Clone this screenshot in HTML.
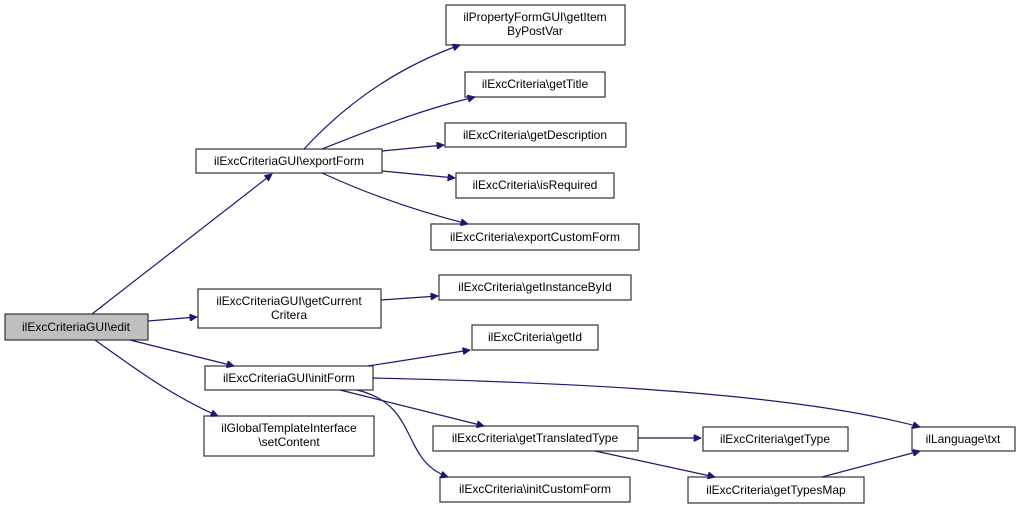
<!DOCTYPE html>
<html><head><meta charset="utf-8"><style>
body{margin:0;background:#fff}
svg text{font-family:"Liberation Sans",Helvetica,sans-serif;font-size:12px;fill:#000;text-anchor:middle}
rect{fill:#fff;stroke:#333;stroke-width:1.2}
path{fill:none;stroke:#191970;stroke-width:1.2}
</style></head><body>
<svg width="1020" height="509" viewBox="0 0 1020 509" xmlns="http://www.w3.org/2000/svg">
<defs><marker id="a" viewBox="0 0 10 10" refX="10" refY="5" markerWidth="10" markerHeight="7" markerUnits="userSpaceOnUse" orient="auto"><path d="M0,0L10,5L0,10z" style="fill:#191970;stroke:#191970"/></marker></defs>
<rect x="5" y="314" width="143" height="26" style="fill:#bfbfbf"/><text x="76" y="331">ilExcCriteriaGUI\edit</text>
<rect x="196" y="149" width="186" height="24"/><text x="289" y="165">ilExcCriteriaGUI\exportForm</text>
<rect x="198" y="289" width="183" height="39"/><text x="289" y="305">ilExcCriteriaGUI\getCurrent</text><text x="289" y="319">Critera</text>
<rect x="205" y="366" width="168" height="24"/><text x="289" y="382">ilExcCriteriaGUI\initForm</text>
<rect x="204" y="416" width="170" height="40"/><text x="289" y="432">ilGlobalTemplateInterface</text><text x="289" y="446">\setContent</text>
<rect x="446" y="5" width="179" height="40"/><text x="535" y="21">ilPropertyFormGUI\getItem</text><text x="535" y="35">ByPostVar</text>
<rect x="465" y="72" width="140" height="25"/><text x="535" y="88">ilExcCriteria\getTitle</text>
<rect x="445" y="123" width="181" height="24"/><text x="535" y="139">ilExcCriteria\getDescription</text>
<rect x="456" y="173" width="158" height="25"/><text x="535" y="189">ilExcCriteria\isRequired</text>
<rect x="431" y="224" width="208" height="26"/><text x="535" y="241">ilExcCriteria\exportCustomForm</text>
<rect x="439" y="275" width="192" height="25"/><text x="535" y="291">ilExcCriteria\getInstanceById</text>
<rect x="472" y="325" width="126" height="25"/><text x="535" y="341">ilExcCriteria\getId</text>
<rect x="433" y="426" width="205" height="25"/><text x="535" y="442">ilExcCriteria\getTranslatedType</text>
<rect x="440" y="477" width="190" height="25"/><text x="535" y="493">ilExcCriteria\initCustomForm</text>
<rect x="703" y="427" width="145" height="24"/><text x="775" y="443">ilExcCriteria\getType</text>
<rect x="688" y="477" width="176" height="26"/><text x="776" y="494">ilExcCriteria\getTypesMap</text>
<rect x="912" y="427" width="103" height="24"/><text x="963" y="443">ilLanguage\txt</text>
<path marker-end="url(#a)" d="M92,314 L272,174"/>
<path marker-end="url(#a)" d="M148,321 L197,317"/>
<path marker-end="url(#a)" d="M130,340 L234,366"/>
<path marker-end="url(#a)" d="M95,340 C130,365 170,395 218,416"/>
<path marker-end="url(#a)" d="M304,149 C340,110 390,70 460,45"/>
<path marker-end="url(#a)" d="M322,149 C370,130 420,110 475,97"/>
<path marker-end="url(#a)" d="M382,151 L444,145"/>
<path marker-end="url(#a)" d="M382,171 L455,178"/>
<path marker-end="url(#a)" d="M322,173 C370,195 420,212 468,224"/>
<path marker-end="url(#a)" d="M381,300 L438,296"/>
<path marker-end="url(#a)" d="M368,366 L470,350"/>
<path marker-end="url(#a)" d="M373,378 C600,383 800,395 920,427"/>
<path marker-end="url(#a)" d="M340,390 L484,426"/>
<path marker-end="url(#a)" d="M357,390 C420,405 400,460 448,477"/>
<path marker-end="url(#a)" d="M638,438 L701,438"/>
<path marker-end="url(#a)" d="M595,451 L715,477"/>
<path marker-end="url(#a)" d="M822,477 L920,451"/>
</svg>
</body></html>
